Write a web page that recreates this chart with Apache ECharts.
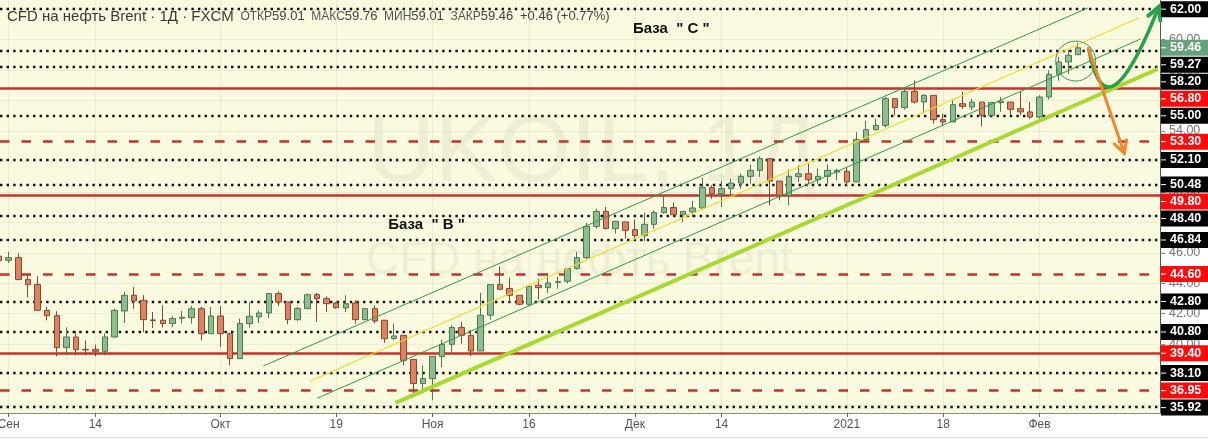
<!DOCTYPE html>
<html><head><meta charset="utf-8">
<script src="https://cdn.jsdelivr.net/npm/echarts@6/dist/echarts.min.js"></script>
<style>html,body{margin:0;padding:0;background:#fff;}#c{width:1208px;height:439px;}</style>
</head><body><div id="c"></div>
<script>
// ---- data (daily candles, 2020-08-31 .. 2021-02-05) ----
const opens  = [45.78,45.51,45.68,44.24,43.91,42.22,41.87,39.77,40.47,39.66,39.66,39.53,40.47,42.18,43.21,42.88,41.59,41.57,41.35,41.70,41.74,42.33,40.69,41.85,40.69,39.05,41.35,41.79,42.05,43.32,42.77,41.61,42.33,43.25,42.99,42.70,42.38,42.70,41.61,42.33,41.57,40.36,40.58,39.00,37.41,37.74,39.20,39.99,41.09,40.58,39.55,41.90,43.91,43.65,43.21,42.62,43.87,43.71,44.06,44.13,44.96,45.68,47.74,48.72,47.59,48.03,47.52,47.13,47.87,48.64,48.97,48.50,48.68,48.94,50.28,49.88,50.21,50.58,51.02,51.41,52.18,50.71,49.77,51.00,51.19,50.80,51.02,51.30,51.35,50.65,53.43,54.08,54.37,56.12,55.53,56.60,55.90,56.34,54.74,54.59,55.79,55.57,55.90,55.03,55.86,55.90,55.46,55.25,54.92,56.23,57.72,58.53,59.01];
const closes = [45.50,45.68,44.24,43.91,42.22,41.87,39.77,40.47,39.64,39.62,39.53,40.47,42.22,43.21,42.84,41.61,41.55,41.35,41.68,41.77,42.33,40.69,41.85,40.69,39.05,41.35,41.83,42.05,43.32,42.77,41.61,42.33,43.25,42.99,42.66,42.40,42.66,41.61,42.33,41.52,40.36,40.54,38.94,37.41,37.74,39.20,39.99,41.09,40.58,39.55,41.90,43.91,43.60,43.21,42.62,43.80,43.71,44.02,44.10,44.96,45.68,47.74,48.72,47.59,48.07,47.48,47.13,47.87,48.64,48.97,48.50,48.72,48.94,50.28,49.88,50.21,50.58,51.02,51.41,52.18,50.71,49.77,51.02,51.19,50.80,51.02,51.41,51.41,50.65,53.43,54.08,54.37,56.12,55.53,56.60,55.90,56.34,54.74,54.59,55.73,55.62,55.90,55.03,55.86,55.95,55.42,55.25,54.92,56.23,57.72,58.53,58.97,59.46];
const lows   = [45.40,45.33,44.20,43.06,42.20,41.57,39.20,39.27,39.27,39.27,39.20,39.27,40.45,41.39,42.33,40.80,41.06,41.09,41.13,41.35,41.35,40.25,40.69,39.82,38.61,39.05,41.09,41.39,41.72,42.49,41.31,41.52,42.30,41.46,42.11,42.33,42.11,41.35,41.57,41.39,40.08,40.25,38.61,36.75,36.97,36.32,38.50,39.38,40.03,39.22,39.55,41.61,43.60,42.77,42.55,42.55,42.95,43.36,43.65,43.98,44.89,45.57,47.59,47.54,47.26,46.93,46.82,46.78,47.59,48.57,48.50,48.03,48.35,48.94,49.55,49.01,49.77,50.21,50.54,50.98,49.12,49.45,49.12,50.65,50.54,50.54,50.54,50.76,50.43,50.65,53.34,54.04,54.22,55.03,55.40,55.79,55.14,54.48,54.37,54.59,55.46,55.35,54.30,55.00,55.25,55.03,55.03,54.81,54.81,56.06,57.32,57.75,59.01];
const highs  = [45.90,46.05,45.95,44.52,44.46,42.44,42.16,41.09,40.87,40.25,39.97,40.69,42.33,43.43,43.76,43.21,42.11,42.55,41.83,42.18,42.51,42.44,42.44,42.51,40.75,41.68,42.77,42.22,43.38,43.47,42.77,42.44,43.32,43.36,43.14,42.77,43.21,42.88,42.33,42.55,41.57,41.35,40.58,39.00,38.61,39.20,40.30,41.24,41.46,40.91,43.36,43.91,45.11,44.37,43.21,43.87,44.30,44.67,44.41,45.00,46.05,47.96,48.90,49.01,48.07,48.03,48.18,48.64,48.79,49.77,49.30,48.72,49.40,50.93,50.43,50.71,50.87,51.19,51.79,52.33,52.18,50.71,51.46,51.74,51.85,51.52,51.81,51.52,51.63,53.93,54.65,54.81,56.23,56.12,56.78,57.32,56.41,56.34,55.14,56.01,56.56,56.12,55.90,55.90,56.23,55.90,56.56,55.90,56.34,57.98,58.86,59.30,59.76];
const firstDay = '2020-08-31', lastDay = '2021-02-05';
const holidays = ['2020-12-25', '2021-01-01'];

// x tick labels
const tickDates  = ['2020-09-01','2020-09-14','2020-10-01','2020-10-19','2020-11-02','2020-11-16','2020-12-01','2020-12-14','2021-01-04','2021-01-18','2021-02-01'];
const tickLabels = ['Сен','14','Окт','19','Ноя','16','Дек','14','2021','18','Фев'];
// y tick labels
const priceTicks = [36,38,40,42,44,46,48,50,52,54,56,58,60,62];

// horizontal levels
const dottedLevels = [62.00,59.27,58.20,55.00,52.10,50.48,48.40,46.84,42.80,40.80,38.10,35.92];
const solidRedLevels = [56.80,49.80,39.40];
const dashedRedLevels = [53.30,44.60,36.95];
const lastPrice = 59.46;

// drawn annotations: [bar index, price]
const channelUpper = [[27.44,38.57],[113.0,62.07]];
const channelMid   = [[32.33,37.58],[118.3,61.42]];
const channelLower = [[33.06,36.46],[118.5,60.04]];
const supportLine  = [[41.16,36.14],[120.27,58.07]];
const arrowDown    = [[113.07,59.43],[116.79,52.54]];
const arrowUp      = [[113.1,59.37],[114.24,55.70],[116.32,55.70],[120.37,62.14]];
const circleMark   = [111.75,58.59];
const baseC = {text:'База  " С "', at:[65.8,60.69]};
const baseB = {text:'База  " В "', at:[40.4,47.82]};
// visible bar-index window of the x axis
const xWindow = [0.104, 120.5];

// ---- build ----
function tradingDays(start, end, skip){
  const out=[]; const d=new Date(start+'T00:00:00Z'); const e=new Date(end+'T00:00:00Z');
  while(d<=e){ const wd=d.getUTCDay(); const s=d.toISOString().slice(0,10);
    if(wd!==0&&wd!==6&&skip.indexOf(s)<0) out.push(s); d.setUTCDate(d.getUTCDate()+1); }
  return out;
}
const days = tradingDays(firstDay, lastDay, holidays);
const tickIdx = tickDates.map(d=>days.indexOf(d));
const labelAt = {}; tickIdx.forEach((ix,k)=>labelAt[ix]=tickLabels[k]);
const ohlc = opens.map((o,i)=>[i, o, closes[i], lows[i], highs[i]]);

const RED='#c9302a', DOT='#111';
const ml = [];
dottedLevels.forEach(v=>ml.push({yAxis:v, lineStyle:{color:DOT,width:2.4,type:[2.4,4.2]}}));
solidRedLevels.forEach(v=>ml.push({yAxis:v, lineStyle:{color:RED,width:2.6,type:'solid'}}));
dashedRedLevels.forEach(v=>ml.push({yAxis:v, lineStyle:{color:RED,width:2.6,type:[9.5,12]}}));

function trend(data,color,width){
  return {type:'line', xAxisIndex:0, yAxisIndex:0, data:data, symbol:'none', silent:true, z:4,
    lineStyle:{color:color,width:width}, animation:false};
}
const FF='Liberation Sans, Arial, sans-serif';

const chart = echarts.init(document.getElementById('c'), null, {renderer:'canvas'});
chart.setOption({
  animation:false,
  backgroundColor:'#ffffff',
  grid:{left:0, right:48, top:0, bottom:26, containLabel:false, outerBoundsMode:'none',
        show:true, backgroundColor:'#fafae1', borderWidth:0},
  xAxis:[
    {type:'value', min:xWindow[0], max:xWindow[1], position:'bottom',
     axisLine:{show:true, lineStyle:{color:'#8a8a80', width:1}},
     axisTick:{show:true, length:4, lineStyle:{color:'#666'}, customValues:tickIdx},
     axisLabel:{show:true, customValues:tickIdx, margin:6, color:'#555', fontSize:12, fontFamily:FF,
       hideOverlap:false, formatter:v=>labelAt[v]||''},
     splitLine:{show:true, lineStyle:{color:'rgba(90,90,60,0.09)', width:1}}}
  ],
  yAxis:[{type:'value', position:'right', min:35.48, max:62.60, scale:true,
     axisLine:{show:true, lineStyle:{color:'#555', width:1}},
     axisTick:{show:true, length:5, lineStyle:{color:'#888'}, customValues:priceTicks},
     axisLabel:{show:true, customValues:priceTicks, margin:9, color:'#777', fontSize:12.5, fontFamily:FF,
       formatter:v=>v.toFixed(2)},
     splitLine:{show:true, lineStyle:{color:'rgba(90,90,60,0.08)', width:1}}}],
  series:[
    {type:'candlestick', xAxisIndex:0, yAxisIndex:0, data:ohlc, barWidth:6, z:3, clip:true,
     encode:{x:0, y:[1,2,3,4]},
     itemStyle:{color:'#8dbd8f', color0:'#dc8462', borderColor:'#4a7a52', borderColor0:'#8c4632', borderWidth:1},
     markLine:{symbol:['none','none'], silent:true, label:{show:false}, data:ml, z:2, animation:false}},
    trend(channelUpper,'#2f9a48',1),
    trend(channelMid,'#f0dc22',1.2),
    trend(channelLower,'#2f9a48',1),
    trend(supportLine,'#a8d832',4),
    {type:'custom', xAxisIndex:0, yAxisIndex:0, data:[[circleMark[0],circleMark[1]]], z:6, silent:true,
     encode:{x:0,y:1},
     renderItem:function(params, api){
       const p=a=>api.coord(a);
       const o0=p(arrowDown[0]), o1=p(arrowDown[1]);
       const g=arrowUp.map(p); const c=p(circleMark);
       function head(tip, from, color, lw){
         const dx=tip[0]-from[0], dy=tip[1]-from[1]; const L=Math.hypot(dx,dy)||1;
         const ux=dx/L, uy=dy/L, len=12, wid=6.5; const bx=tip[0]-ux*len, by=tip[1]-uy*len;
         return {type:'polyline', shape:{points:[[bx-uy*wid,by+ux*wid],tip,[bx+uy*wid,by-ux*wid]]},
           style:{stroke:color, lineWidth:lw, fill:'none', lineJoin:'miter', lineCap:'round'}};
       }
       return {type:'group', children:[
         {type:'circle', shape:{cx:c[0],cy:c[1],r:20}, style:{stroke:'#3a9d52', fill:'none', lineWidth:1}},
         {type:'bezierCurve', shape:{x1:g[0][0],y1:g[0][1],cpx1:g[1][0],cpy1:g[1][1],cpx2:g[2][0],cpy2:g[2][1],x2:g[3][0],y2:g[3][1]},
          style:{stroke:'#27a24a', lineWidth:3.5, fill:'none'}},
         head(g[3], g[2], '#27a24a', 4),
         {type:'line', shape:{x1:o0[0],y1:o0[1],x2:o1[0],y2:o1[1]}, style:{stroke:'#f5862a', lineWidth:3, lineCap:'round'}},
         head(o1, o0, '#f5862a', 3)
       ]};
     }}
  ]
});

// ---- overlay graphics: header, watermark, annotations, price badges ----
const gfx = [];
gfx.push({type:'text', z:1, silent:true, left:367, top:108,
  style:{text:'UKOIL, 1Д', font:'94px '+FF, fill:'rgba(90,90,50,0.07)'}});
gfx.push({type:'text', z:1, silent:true, left:366, top:238,
  style:{text:'CFD на нефть Brent', font:'46px '+FF, fill:'rgba(90,90,50,0.07)'}});
gfx.push({type:'text', z:50, silent:true, left:7, top:9,
  style:{text:'{a|CFD на нефть Brent · 1Д · FXCM}  {b|ОТКР}{c|59.01}  {b|МАКС}{c|59.76}  {b|МИН}{c|59.01}  {b|ЗАКР}{c|59.46}  {c|+0.46 (+0.77%)}',
    rich:{a:{fontSize:15, fontFamily:FF, fill:'#3a3a3a'}, b:{fontSize:12, fontFamily:FF, fill:'#555'}, c:{fontSize:13, fontFamily:FF, fill:'#444'}}}});
[baseC, baseB].forEach(b=>{
  const pt = chart.convertToPixel({xAxisIndex:0, yAxisIndex:0}, b.at);
  gfx.push({type:'text', z:50, silent:true, x:pt[0], y:pt[1],
    style:{text:b.text, font:'bold 15px '+FF, fill:'#111', verticalAlign:'middle'}});
});
// badges
const badges = [];
dottedLevels.forEach(v=>badges.push({v:v, c:'#000'}));
solidRedLevels.concat(dashedRedLevels).forEach(v=>badges.push({v:v, c:'#ff0a0a'}));
badges.push({v:lastPrice, c:'#63a27c'});
badges.forEach(b=>b.y=chart.convertToPixel({yAxisIndex:0}, b.v));
badges.sort((a,b)=>a.y-b.y);
let prev=-1e9; const H=17;
badges.forEach(b=>{ b.dy=Math.max(b.y, prev+H); prev=b.dy; });
const axX = chart.convertToPixel({xAxisIndex:0}, xWindow[1]);
badges.forEach(b=>{
  gfx.push({type:'rect', z:60, silent:true, shape:{x:axX+1, y:b.dy-8, width:1208-axX, height:16}, style:{fill:b.c}});
  gfx.push({type:'line', z:61, silent:true, shape:{x1:axX+1,y1:b.dy,x2:axX+6,y2:b.dy}, style:{stroke:'#fff', lineWidth:1}});
  gfx.push({type:'text', z:61, silent:true, x:axX+10, y:b.dy,
    style:{text:b.v.toFixed(2), font:'bold 12.5px '+FF, fill:'#fff', verticalAlign:'middle'}});
});
gfx.push({type:'line', z:60, silent:true, shape:{x1:0,y1:437.5,x2:1208,y2:437.5}, style:{stroke:'#dcdcdc', lineWidth:1}});
chart.setOption({graphic:gfx});
</script></body></html>
